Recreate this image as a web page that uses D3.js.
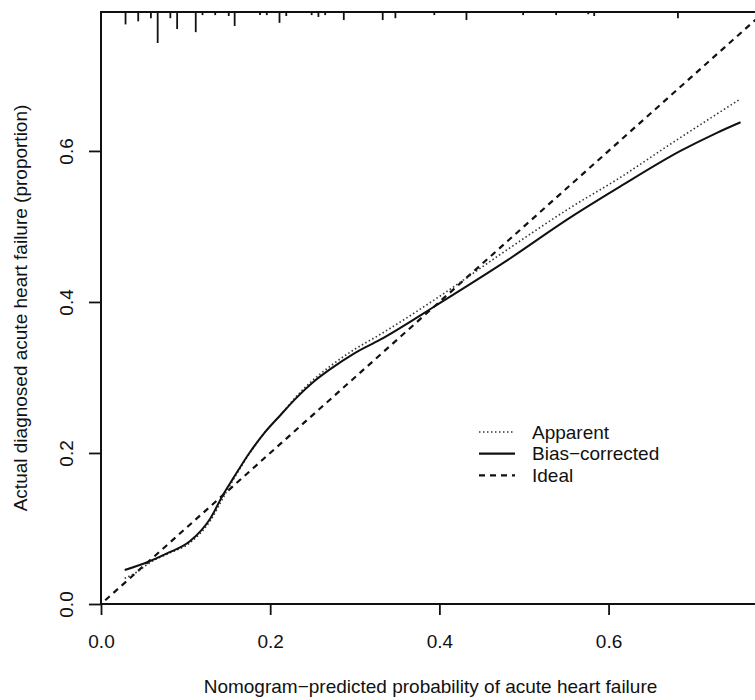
<!DOCTYPE html>
<html lang="en">
<head>
<meta charset="utf-8">
<title>Calibration curve</title>
<script src="https://d3js.org/d3.v7.min.js"></script>
<style>
    body { margin: 0; background: white; }
    text { font-family: "Liberation Sans", Arial, sans-serif; fill: #111; }
</style>
</head>
<body>
<div id="my_dataviz"></div>
<script>
    // bias-corrected calibration curve
    var biasX = [0.028, 0.054, 0.078, 0.105, 0.129, 0.145, 0.156, 0.176, 0.192, 0.212, 0.231,
                 0.251, 0.271, 0.298, 0.330, 0.397, 0.476, 0.555, 0.614, 0.685, 0.728, 0.756];
    var biasY = [0.045, 0.055, 0.067, 0.083, 0.113, 0.146, 0.166, 0.201, 0.225, 0.250, 0.273,
                 0.294, 0.311, 0.331, 0.350, 0.396, 0.452, 0.512, 0.553, 0.600, 0.624, 0.638];

    // apparent calibration curve
    var apparentX = [0.028, 0.042, 0.058, 0.078, 0.105, 0.129, 0.145, 0.156, 0.176, 0.192, 0.212,
                     0.231, 0.251, 0.271, 0.298, 0.330, 0.397, 0.476, 0.555, 0.614, 0.669, 0.756];
    var apparentY = [0.034, 0.042, 0.055, 0.066, 0.081, 0.110, 0.142, 0.164, 0.200, 0.225, 0.250,
                     0.275, 0.297, 0.315, 0.336, 0.357, 0.405, 0.466, 0.525, 0.565, 0.606, 0.669];

    // ideal line
    var idealX = [0.005, 0.80];
    var idealY = [0.005, 0.80];

    // distribution of predicted values (rug at top)
    var rugX = [0.029, 0.044, 0.059, 0.067, 0.082, 0.090, 0.112, 0.120, 0.135, 0.151, 0.158, 0.188,
                0.196, 0.211, 0.219, 0.249, 0.257, 0.265, 0.287, 0.333, 0.348, 0.394, 0.432, 0.499,
                0.538, 0.576, 0.583, 0.682];
    var rugFreq = [4, 3, 2, 10, 2, 5.5, 6.5, 1, 1, 1.3, 4.5, 1,
                   1, 3.5, 1.3, 1, 1.6, 1, 2.6, 2.6, 2, 1, 2.6, 1,
                   1, 0.7, 1.3, 2];

    var xTicks = [0, 0.2, 0.4, 0.6];
    var yTicks = [0, 0.2, 0.4, 0.6];
    var legendLabels = ["Apparent", "Bias\u2212corrected", "Ideal"];

    var xTitle = "Nomogram\u2212predicted probability of acute heart failure";
    var yTitle = "Actual diagnosed acute heart failure (proportion)";

    // dimensions
    var W = 755, H = 700;
    var margin = {top: 12, right: -5, bottom: 96, left: 101};
    var width = W - margin.left - margin.right,
        height = H - margin.top - margin.bottom;
    var fs = "19px";

    var svg = d3.select("#my_dataviz")
      .append("svg")
        .attr("width", W)
        .attr("height", H)
      .append("g")
        .attr("transform", "translate(" + margin.left + "," + margin.top + ")");

    var x = d3.scaleLinear().domain([0, 0.779]).range([0, width]);
    var y = d3.scaleLinear().domain([0, 0.784]).range([height, 0]);

    svg.append("clipPath").attr("id", "clip")
      .append("rect").attr("width", width).attr("height", height);

    // X axis
    var xAxis = svg.append("g")
        .attr("transform", "translate(0," + height + ")")
        .call(d3.axisBottom(x).tickValues(xTicks).tickFormat(d3.format(".1f")).tickSize(11).tickPadding(0));
    xAxis.select(".domain").remove();
    xAxis.selectAll("line").attr("stroke", "#111").attr("stroke-width", 1.8);
    xAxis.selectAll("text")
        .style("font-size", fs)
        .attr("fill", "#111")
        .attr("y", 37)
        .attr("dy", "0.35em");

    // Y axis, labels rotated like R
    var yAxis = svg.append("g")
        .call(d3.axisLeft(y).tickValues(yTicks).tickFormat(d3.format(".1f")).tickSize(12));
    yAxis.select(".domain").remove();
    yAxis.selectAll("line").attr("stroke", "#111").attr("stroke-width", 1.8);
    yAxis.selectAll("text")
        .style("font-size", fs)
        .attr("fill", "#111")
        .attr("x", null)
        .attr("dy", "0.35em")
        .attr("text-anchor", "middle")
        .attr("transform", "translate(-35,0) rotate(-90)");

    // frame
    svg.append("rect")
        .attr("x", 0).attr("y", 0)
        .attr("width", width).attr("height", height)
        .attr("fill", "none")
        .attr("stroke", "#111")
        .attr("stroke-width", 2);

    // rug of predictions hanging from the top
    var h = d3.scaleLinear().domain([0, 10]).range([0, 31]);
    svg.append("g").selectAll("line")
        .data(rugX)
      .enter().append("line")
        .attr("x1", function(d) { return x(d); })
        .attr("x2", function(d) { return x(d); })
        .attr("y1", 0)
        .attr("y2", function(d, i) { return h(rugFreq[i]); })
        .attr("stroke", "#111")
        .attr("stroke-width", 1.8);

    var line = d3.line()
        .x(function(d) { return x(d[0]); })
        .y(function(d) { return y(d[1]); })
        .curve(d3.curveMonotoneX);

    var plot = svg.append("g").attr("clip-path", "url(#clip)");

    plot.append("path")
        .datum(d3.zip(idealX, idealY))
        .attr("d", line)
        .attr("fill", "none")
        .attr("stroke", "#111")
        .attr("stroke-width", 2.2)
        .attr("stroke-dasharray", "6,5");

    plot.append("path")
        .datum(d3.zip(apparentX, apparentY))
        .attr("d", line)
        .attr("fill", "none")
        .attr("stroke", "#333")
        .attr("stroke-width", 1.6)
        .attr("stroke-dasharray", "1.5,2.5");

    plot.append("path")
        .datum(d3.zip(biasX, biasY))
        .attr("d", line)
        .attr("fill", "none")
        .attr("stroke", "#111")
        .attr("stroke-width", 2);

    // legend
    var dashes = ["1.5,2.5", null, "6,5"];
    var widths = [1.6, 2.2, 2.2];
    var legend = svg.append("g").attr("transform", "translate(378,420)");
    legendLabels.forEach(function(lab, i) {
        legend.append("line")
            .attr("x1", 0).attr("x2", 36)
            .attr("y1", i * 21.7).attr("y2", i * 21.7)
            .attr("stroke", i == 0 ? "#333" : "#111")
            .attr("stroke-width", widths[i])
            .attr("stroke-dasharray", dashes[i]);
        legend.append("text")
            .attr("x", 53)
            .attr("y", i * 21.7)
            .attr("dy", "0.35em")
            .style("font-size", fs)
            .text(lab);
    });

    // axis titles
    svg.append("text")
        .attr("x", width / 2)
        .attr("y", height + 82)
        .attr("dy", "0.35em")
        .attr("text-anchor", "middle")
        .style("font-size", fs)
        .text(xTitle);

    svg.append("text")
        .attr("transform", "translate(-81," + (height / 2) + ") rotate(-90)")
        .attr("dy", "0.35em")
        .attr("text-anchor", "middle")
        .style("font-size", fs)
        .text(yTitle);
</script>
</body>
</html>
